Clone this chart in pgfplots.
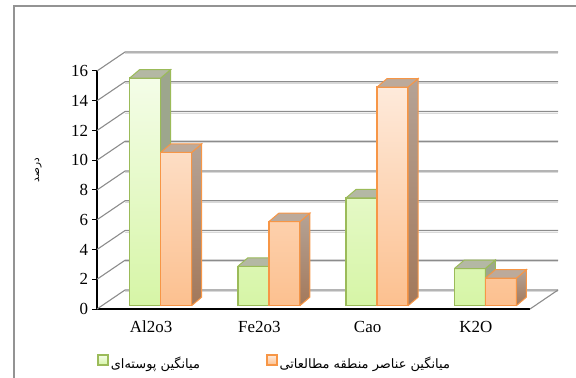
\documentclass[border=0pt]{standalone}
\usepackage{pgfplots}
\pgfplotsset{compat=1.18}
\usepackage{fontspec}
\setmainfont{Liberation Serif}
\newfontfamily\arabicfont[Script=Arabic]{DejaVu Sans}
\TeXXeTstate=1

\definecolor{grnline}{HTML}{9BBB59}
\definecolor{grntop}{HTML}{F4FDE8}
\definecolor{grnbot}{HTML}{D6F5A6}
\definecolor{grnside}{HTML}{9DA68D}
\definecolor{grnlid}{HTML}{B4B8A4}
\definecolor{ornline}{HTML}{F79646}
\definecolor{orntop}{HTML}{FEEADB}
\definecolor{ornbot}{HTML}{FCC08F}
\definecolor{ornsidetop}{HTML}{B5A396}
\definecolor{ornsidebot}{HTML}{A3785A}
\definecolor{ornlid}{HTML}{BCAA9B}
\definecolor{wall}{HTML}{8C8C8C}

% depth of the back wall (canvas)
\def\wdx{28bp}\def\wdy{19bp}

% side and top faces of one box, in data units:
% #1 = centre of the front face, #2 = value, #3 = edge colour,
% #4 = fill of the side face, #5 = fill of the top face.
% half bar width 0.1432, depth 0.0924 along x and 0.5714 along y
\newcommand\boxfaces[5]{%
  \pgfmathsetmacro\xl{#1-0.1432}%
  \pgfmathsetmacro\xr{#1+0.1432}%
  \pgfmathsetmacro\xll{#1-0.1432+0.0924}%
  \pgfmathsetmacro\xrr{#1+0.1432+0.0924}%
  \pgfmathsetmacro\yt{#2+0.5714}%
  \addplot[forget plot, yshift=3.3bp, draw=#3, line width=1bp, #4]
    coordinates {(\xr,0) (\xrr,0.5714) (\xrr,\yt) (\xr,#2) (\xr,0)};
  \addplot[forget plot, yshift=3.3bp, draw=#3, line width=1bp, fill=#5]
    coordinates {(\xl,#2) (\xll,\yt) (\xrr,\yt) (\xr,#2) (\xl,#2)};
}

\begin{document}
\begin{tikzpicture}
\useasboundingbox (0,0) rectangle (576bp,378bp);
\draw[gray!85, line width=1.6bp] (14bp,0) -- (14bp,372bp) -- (576bp,372bp);
\begin{axis}[
  at={(97bp,69bp)}, anchor=south west,
  scale only axis, width=433bp, height=238bp,
  xmin=-0.5, xmax=3.5, ymin=0, ymax=16,
  clip=false,
  axis x line*=bottom, axis y line*=left,
  axis line style={black, line width=1.4bp, -},
  tick align=outside,
  ytick={0,2,...,16},
  ytick style={black, line width=1bp},
  major tick length=4.5bp,
  xtick={0,1,2,3},
  xticklabels={Al2o3, Fe2o3, Cao, K2O},
  xtick style={draw=none},
  extra x ticks={0.5,1.5,2.5,3.5},
  extra x tick labels={},
  extra x tick style={tick style={draw=black, line width=1bp}},
  /pgf/number format/assume math mode=true,
  ticklabel style={font=\fontsize{17}{19}\selectfont},
  xticklabel style={yshift=-4bp},
  yticklabel style={xshift=-1bp},
  ylabel={\arabicfont\beginR درصد\endR},
  ylabel style={at={(axis description cs:-0.136,0.584)}, anchor=center,
    font=\fontsize{10.5}{12}\selectfont},
  legend style={at={(axis description cs:0,-0.227)}, anchor=west,
    draw=none, fill=none, inner xsep=0pt,
    legend columns=2,
    /tikz/every even column/.append style={column sep=64bp},
    font=\arabicfont\fontsize{13}{15}\selectfont},
  legend cell align=left,
]

% back wall and floor
\pgfplotsinvokeforeach{0,2,...,16}{
  \draw[gray!30, line width=1bp]
    ([shift={(\wdx,\wdy-1.6bp)}]axis cs:-0.5,#1) -- ([shift={(\wdx,\wdy-1.6bp)}]axis cs:3.5,#1);
  \draw[wall, line width=1.1bp]
    (axis cs:-0.5,#1) -- ([shift={(\wdx,\wdy)}]axis cs:-0.5,#1)
    -- ([shift={(\wdx,\wdy)}]axis cs:3.5,#1);
}
\draw[wall, line width=1.1bp] (axis cs:3.5,0) -- ([shift={(\wdx,\wdy)}]axis cs:3.5,0);

% crust average: front faces
\addplot[ybar, bar width=31bp, bar shift=-6bp, yshift=3.3bp,
  draw=grnline, line width=1.3bp, top color=grntop, bottom color=grnbot,
  legend image code/.code={\draw[draw=grnline, line width=1.6bp, fill=grntop!50!grnbot]
    (0bp,-5bp) rectangle (10bp,5bp);}]
  coordinates {(0,15.3) (1,2.65) (2,7.25) (3,2.5)};
\addlegendentry{\beginR میانگین پوسته‌ای\endR}

% crust average: side and top faces (front face centres at x - 0.0554)
\boxfaces{-0.0554}{15.3}{grnline}{fill=grnside}{grnlid}
\boxfaces{0.9446}{2.65}{grnline}{fill=grnside}{grnlid}
\boxfaces{1.9446}{7.25}{grnline}{fill=grnside}{grnlid}
\boxfaces{2.9446}{2.5}{grnline}{fill=grnside}{grnlid}

% study area average: front faces
\addplot[ybar, bar width=31bp, bar shift=25bp, yshift=3.3bp,
  draw=ornline, line width=1.3bp, top color=orntop, bottom color=ornbot,
  legend image code/.code={\draw[draw=ornline, line width=1.6bp, fill=orntop!50!ornbot]
    (0bp,-5bp) rectangle (10bp,5bp);}]
  coordinates {(0,10.3) (1,5.65) (2,14.7) (3,1.85)};
\addlegendentry{\beginR میانگین عناصر منطقه مطالعاتی\endR}

% study area average: side and top faces (front face centres at x + 0.2309)
\boxfaces{0.2309}{10.3}{ornline}{top color=ornsidetop, bottom color=ornsidebot}{ornlid}
\boxfaces{1.2309}{5.65}{ornline}{top color=ornsidetop, bottom color=ornsidebot}{ornlid}
\boxfaces{2.2309}{14.7}{ornline}{top color=ornsidetop, bottom color=ornsidebot}{ornlid}
\boxfaces{3.2309}{1.85}{ornline}{top color=ornsidetop, bottom color=ornsidebot}{ornlid}
\end{axis}
\end{tikzpicture}
\end{document}
